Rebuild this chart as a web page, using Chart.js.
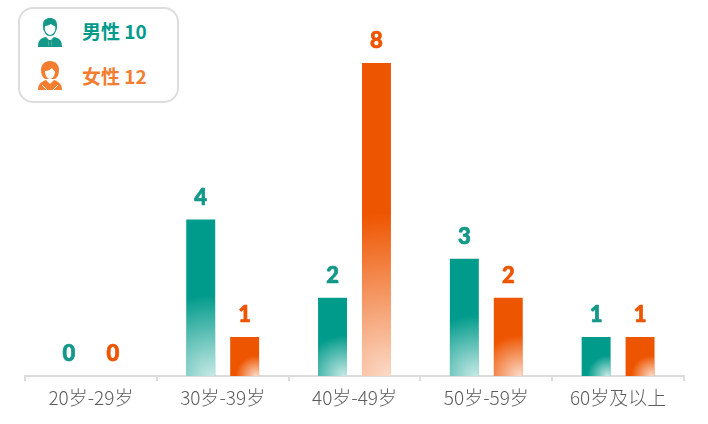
<!DOCTYPE html>
<html>
<head>
<meta charset="utf-8">
<script src="https://cdn.jsdelivr.net/npm/chart.js@4"></script>
<style>
  html, body { margin: 0; padding: 0; background: #fff; }
  #wrap { position: relative; width: 708px; height: 424px; overflow: hidden; }
  #legend {
    position: absolute; left: 18px; top: 7px; width: 157px; height: 92px;
    border: 2px solid #ddd; border-radius: 15px; background: #fff;
    font-family: "Noto Sans CJK SC", "Noto Sans", sans-serif; font-weight: 700; font-size: 19px;
  }
  .row { position: absolute; left: 17px; height: 32px; display: flex; align-items: center; white-space: nowrap; }
  .row svg { width: 26px; height: 31px; margin-right: 19px; }
  #maleLabel { position: relative; top: -2px; }
</style>
</head>
<body>
<div id="wrap">
  <canvas id="chart" width="708" height="424"></canvas>
  <div id="legend">
    <div class="row" style="top:7px;color:#009b8b">
      <svg viewBox="0 0 26 31"><path fill="#13988a" d="M6 8c0-5 3-7 7-7s7 2 7 7c0 2 0 5-1 6-1 3-3 5-6 5s-5-2-6-5C6 13 6 10 6 8zM1 30c0-6 2-9 8-10l3 3-1 7H1zm24 0c0-6-2-9-8-10l-3 3 1 7h10z"/><path fill="#fff" d="M8 9c2 0 4-1 6-2 1 1 3 2 4 2 1 3 0 8-5 9-4-1-6-5-5-9z"/><path fill="#13988a" d="M12 23h2l1 7h-4z"/></svg>
      <span id="maleLabel"></span>
    </div>
    <div class="row" style="top:50px;color:#f47d30">
      <svg viewBox="0 0 26 31"><path fill="#f47d30" d="M13 1c6 0 9 4 9 9 0 4-1 7-4 9H8c-3-2-4-5-4-9 0-5 3-9 9-9zM1 30c0-5 2-8 8-10l4 4 4-4c6 2 8 5 8 10H1z"/><path fill="#fff" d="M8 11c3 0 5-1 7-3 1 2 2 3 3 3 0 4-2 8-5 8s-5-4-5-8z"/><path stroke="#fff" stroke-width="1" fill="none" d="M5 25l5 5M21 25l-5 5"/></svg>
      <span id="femaleLabel"></span>
    </div>
  </div>
</div>
<script>
// Datos
const categories = ['20岁-29岁', '30岁-39岁', '40岁-49岁', '50岁-59岁', '60岁及以上'];
const maleValues = [0, 4, 2, 3, 1];
const femaleValues = [0, 1, 8, 2, 1];
const maleName = '男性';
const femaleName = '女性';
const maleTotal = 10;
const femaleTotal = 12;

document.getElementById('maleLabel').textContent = maleName + ' ' + maleTotal;
document.getElementById('femaleLabel').textContent = femaleName + ' ' + femaleTotal;

// Plugin: pinta el brillo encima de cada barra y las etiquetas de valor
const barExtras = {
    id: 'barExtras',
    afterDatasetsDraw(chart) {
        const ctx = chart.ctx;
        chart.data.datasets.forEach((ds, i) => {
            const meta = chart.getDatasetMeta(i);
            meta.data.forEach((bar, j) => {
                const value = ds.data[j];
                if (value > 0) {
                    const h = bar.base - bar.y;
                    const cx = bar.x + bar.width / 2 - 3;
                    const r = h * 0.52;
                    const g = ctx.createRadialGradient(cx, bar.base, 0, cx, bar.base, r);
                    g.addColorStop(0, 'rgba(255,255,255,0.78)');
                    g.addColorStop(1, 'rgba(255,255,255,0)');
                    ctx.save();
                    ctx.fillStyle = g;
                    ctx.fillRect(bar.x - bar.width / 2, bar.y, bar.width, h);
                    ctx.restore();
                }
                ctx.save();
                ctx.fillStyle = ds.labelColor;
                ctx.strokeStyle = ds.labelColor;
                ctx.lineWidth = 0.7;
                ctx.lineJoin = 'round';
                ctx.font = '900 22px Lato, "Noto Sans", sans-serif';
                ctx.textAlign = 'center';
                ctx.textBaseline = 'alphabetic';
                ctx.fillText(String(value), bar.x, bar.y - 15);
                ctx.strokeText(String(value), bar.x, bar.y - 15);
                ctx.restore();
            });
        });
    }
};

new Chart(document.getElementById('chart').getContext('2d'), {
    type: 'bar',
    data: {
        labels: categories,
        datasets: [
            { label: maleName, data: maleValues, backgroundColor: '#009b8b', labelColor: '#13988a' },
            { label: femaleName, data: femaleValues, backgroundColor: '#ee5500', labelColor: '#ee5500' }
        ]
    },
    plugins: [barExtras],
    options: {
        responsive: false,
        animation: false,
        categoryPercentage: 0.6667,
        barPercentage: 0.659,
        layout: { padding: { left: 25, right: 24, top: 63, bottom: 0 } },
        plugins: { legend: { display: false }, tooltip: { enabled: false } },
        scales: {
            x: {
                afterFit(scale) { scale.height = 48; },
                border: { color: '#dddddd', width: 2 },
                grid: { display: true, drawOnChartArea: false, drawTicks: true, tickLength: 5, color: '#dddddd', lineWidth: 2, offset: true },
                ticks: {
                    color: '#5c5c5c',
                    padding: 5,
                    maxRotation: 0,
                    font: { family: '"Noto Sans CJK SC", "Noto Sans", sans-serif', size: 19, weight: '300' }
                }
            },
            y: { display: false, min: 0, max: 8 }
        }
    }
});
</script>
</body>
</html>
